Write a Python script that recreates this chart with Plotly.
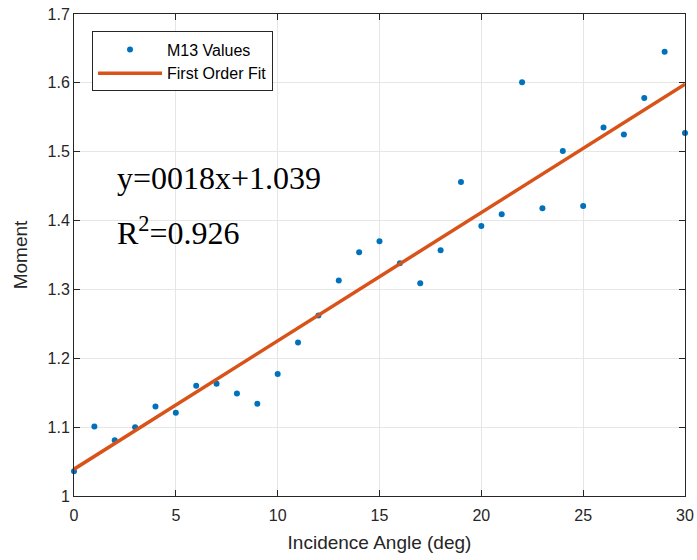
import plotly.graph_objects as go

angles = [0, 1, 2, 3, 4, 5, 6, 7, 8, 9, 10, 11, 12, 13, 14, 15,
          16, 17, 18, 19, 20, 21, 22, 23, 24, 25, 26, 27, 28, 29, 30]
m13_values = [1.036, 1.101, 1.081, 1.100, 1.130, 1.121, 1.160, 1.163, 1.149, 1.134,
              1.177, 1.223, 1.262, 1.313, 1.354, 1.370, 1.338, 1.309, 1.357, 1.456,
              1.392, 1.409, 1.601, 1.418, 1.501, 1.421, 1.535, 1.525, 1.578, 1.645, 1.527]
fit_x = [0, 30]
fit_y = [1.039, 1.598]

eq_text = "y=0018x+1.039"
r2_text = "R<sup>2</sup>=0.926"

blue = "#0072BD"
orange = "#D95319"
axis_col = "#262626"

fig = go.Figure()
fig.add_trace(go.Scatter(
    x=angles, y=m13_values, mode="markers", name="M13 Values",
    marker=dict(color=blue, size=6), cliponaxis=False))
fig.add_trace(go.Scatter(
    x=fit_x, y=fit_y, mode="lines", name="First Order Fit",
    line=dict(color=orange, width=3.5), cliponaxis=False))

serif = dict(family="Liberation Serif, Times New Roman, serif", size=32, color="black")
fig.add_annotation(x=2.0, y=1.462, xref="x", yref="y", text=eq_text,
                   showarrow=False, xanchor="left", yanchor="middle", font=serif)
fig.add_annotation(x=2.0, y=1.385, xref="x", yref="y", text=r2_text,
                   showarrow=False, xanchor="left", yanchor="middle", font=serif)

axis_common = dict(
    showline=True, linecolor=axis_col, linewidth=1, mirror="ticks",
    ticks="inside", ticklen=6, tickcolor=axis_col, tickwidth=1,
    showgrid=True, gridcolor="#e6e6e6", gridwidth=1, zeroline=False,
    automargin=False,
    tickfont=dict(family="Arial, Liberation Sans, sans-serif", size=16, color="#262626"),
)

fig.update_layout(
    width=697, height=560,
    margin=dict(l=74, r=12, t=14, b=64),
    plot_bgcolor="white", paper_bgcolor="white",
    font=dict(family="Arial, Liberation Sans, sans-serif", color="#262626"),
    xaxis=dict(range=[0, 30], dtick=5, tick0=0, ticklabelstandoff=5,
               title=dict(text="Incidence Angle (deg)", font=dict(size=19), standoff=12),
               **axis_common),
    yaxis=dict(range=[1, 1.7], dtick=0.1, tick0=1,
               title=dict(text="Moment", font=dict(size=19), standoff=14),
               **axis_common),
    legend=dict(x=0.0295, y=0.9637, xanchor="left", yanchor="top",
                bgcolor="white", bordercolor=axis_col, borderwidth=1,
                font=dict(size=16, color="black"), itemwidth=64,
                tracegroupgap=0),
    showlegend=True,
)

fig.write_html("out.html", config={"displayModeBar": False},
               post_script="document.body.style.margin='0';document.body.style.overflow='hidden';")
